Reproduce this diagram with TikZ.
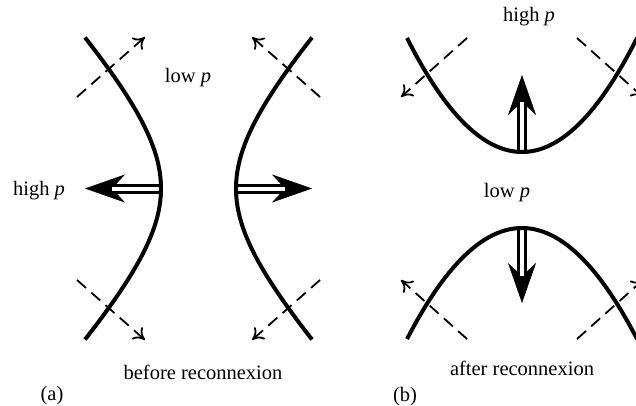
\documentclass[tikz,border=0pt]{standalone}
\usepackage{fontspec}
\setmainfont{Liberation Serif}
\usetikzlibrary{arrows.meta}
\begin{document}
\begin{tikzpicture}[x=1pt,y=-1pt,
    fieldline/.style={line width=4pt},
    flowline/.style={line width=1.8pt,dash pattern=on 12pt off 7pt,-{To[length=11pt,width=16pt]}},
    shaft/.style={line width=3pt,double=white,double distance=4pt},
    bighead/.style={line width=0.5pt,-{Stealth[length=40pt,width=28pt,inset=13pt]}},
    lbl/.style={anchor=base,font=\fontsize{20.5}{24}\selectfont}]
    \useasboundingbox (0,0) rectangle (636,406);
    % (a) before reconnexion
    \coordinate (va) at (161,188.5); \coordinate (ta) at (85,188.5); \coordinate (na) at (112,188.5);
    \coordinate (vb) at (236,188.5); \coordinate (tb) at (312,188.5); \coordinate (nb) at (285,188.5);
    \draw[flowline] (77,97) -- (145,37);
    \draw[flowline] (320,97) -- (252,37);
    \draw[flowline] (77,280) -- (145,340);
    \draw[flowline] (320,280) -- (252,340);
    \draw[bighead] (va) -- (ta);
    \draw[bighead] (vb) -- (tb);
    \draw[shaft] (va) -- (na);
    \draw[shaft] (vb) -- (nb);
    \draw[fieldline,domain=-151:151,samples=60] plot({161-93.7*(sqrt(1+(\x/100)^2)-1)},{188.5+\x});
    \draw[fieldline,domain=-151:151,samples=60] plot({236+93.7*(sqrt(1+(\x/100)^2)-1)},{188.5+\x});
    \node[lbl] (lowa) at (188,83) {low \textit{p}};
    \node[lbl] (higha) at (39,195) {high \textit{p}};
    \node[lbl] (before) at (203,379) {before reconnexion};
    \node[lbl] (tagA) at (52,400) {(a)};
    % (b) after reconnexion
    \coordinate (vu) at (522,152); \coordinate (tu) at (522,75); \coordinate (nu) at (522,102);
    \coordinate (vd) at (522,228); \coordinate (td) at (522,303); \coordinate (nd) at (522,276);
    \draw[flowline] (467,38) -- (401,97);
    \draw[flowline] (577,38) -- (643,97);
    \draw[flowline] (467,339) -- (401,280);
    \draw[flowline] (577,339) -- (643,280);
    \draw[bighead] (vu) -- (tu);
    \draw[bighead] (vd) -- (td);
    \draw[shaft] (vu) -- (nu);
    \draw[shaft] (vd) -- (nd);
    \draw[fieldline,domain=-115:115,samples=60] plot({522+\x},{152-114*(\x/115)^2});
    \draw[fieldline,domain=-115:115,samples=60] plot({522+\x},{228+111*(\x/115)^2});
    \node[lbl] (highb) at (529,22) {high \textit{p}};
    \node[lbl] (lowb) at (507,197) {low \textit{p}};
    \node[lbl] (after) at (522,375) {after reconnexion};
    \node[lbl] (tagB) at (405,401) {(b)};
\end{tikzpicture}
\end{document}
